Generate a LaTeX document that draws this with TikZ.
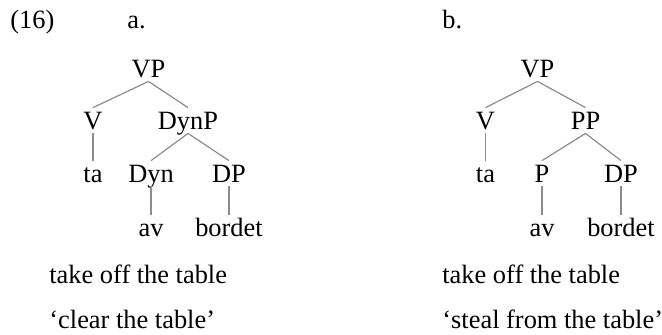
\documentclass[tikz,border=0pt]{standalone}
\usepackage{fontspec}
\setmainfont{Liberation Serif}
\begin{document}
\begin{tikzpicture}[x=0.5pt,y=-0.5pt,
  every node/.style={font=\fontsize{13.2pt}{15pt}\selectfont},
  tn/.style={inner xsep=0pt, inner ysep=2pt, text height=8.5pt, text depth=0pt, anchor=base},
  txt/.style={inner sep=0pt, anchor=base west},
  branch/.style={draw={rgb,255:red,140;green,140;blue,140}, line width=0.6pt}]
\useasboundingbox (0,0) rectangle (662,334);
% headings
\node[txt] (num) at (10,28) {(16)};
\node[txt] (la) at (127,28) {a.};
\node[txt] (lb) at (442,28) {b.};
% tree a
\node[tn] (VPa) at (148.5,77) {VP};
\node[tn] (Va) at (93,129) {V};
\node[tn] (DynP) at (188,129) {DynP};
\node[tn] (taa) at (93,182) {ta};
\node[tn] (Dyn) at (151,182) {Dyn};
\node[tn] (DPa) at (229,182) {DP};
\node[tn] (ava) at (151,236) {av};
\node[tn] (bordeta) at (229,236) {bordet};
\draw[branch] (VPa.south) -- (Va.north);
\draw[branch] (VPa.south) -- (DynP.north);
\draw[branch] (Va.south) -- (taa.north);
\draw[branch] (DynP.south) -- (Dyn.north);
\draw[branch] (DynP.south) -- (DPa.north);
\draw[branch] (Dyn.south) -- (ava.north);
\draw[branch] (DPa.south) -- (bordeta.north);
% tree b
\node[tn] (VPb) at (537.5,77) {VP};
\node[tn] (Vb) at (485.5,129) {V};
\node[tn] (PP) at (585.5,129) {PP};
\node[tn] (tab) at (485.5,182) {ta};
\node[tn] (Pb) at (542,182) {P};
\node[tn] (DPb) at (621,182) {DP};
\node[tn] (avb) at (542,236) {av};
\node[tn] (bordetb) at (621,236) {bordet};
\draw[branch] (VPb.south) -- (Vb.north);
\draw[branch] (VPb.south) -- (PP.north);
\draw[branch] (Vb.south) -- (tab.north);
\draw[branch] (PP.south) -- (Pb.north);
\draw[branch] (PP.south) -- (DPb.north);
\draw[branch] (Pb.south) -- (avb.north);
\draw[branch] (DPb.south) -- (bordetb.north);
% glosses
\node[txt] (ga1) at (49,283) {take off the table};
\node[txt] (ga2) at (49,328) {‘clear the table’};
\node[txt] (gb1) at (442,283) {take off the table};
\node[txt] (gb2) at (442,328) {‘steal from the table’};
\end{tikzpicture}
\end{document}
